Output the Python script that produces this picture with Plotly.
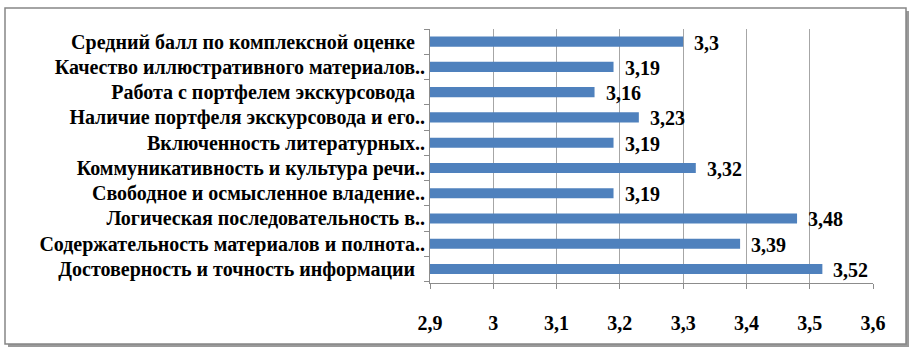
import plotly.graph_objects as go

# Data (bottom to top as plotted)
categories = [
    "Достоверность и точность информации\u00a0\u00a0",
    "Содержательность материалов и полнота..",
    "Логическая последовательность в..",
    "Свободное и осмысленное владение..",
    "Коммуникативность и культура речи..",
    "Включенность литературных..",
    "Наличие портфеля экскурсовода и его..",
    "Работа с портфелем экскурсовода\u00a0\u00a0",
    "Качество иллюстративного материалов..",
    "Средний балл по комплексной оценке\u00a0\u00a0",
]
values = [3.52, 3.39, 3.48, 3.19, 3.32, 3.19, 3.23, 3.16, 3.19, 3.3]
x_ticks = [2.9, 3.0, 3.1, 3.2, 3.3, 3.4, 3.5, 3.6]
x_tick_labels = ["2,9", "3", "3,1", "3,2", "3,3", "3,4", "3,5", "3,6"]

FONT = "Liberation Serif, Times New Roman, DejaVu Serif, serif"
W, H = 912, 352
ML, MR, MT, MB = 430, 39, 29, 69
PW, PH = W - ML - MR, H - MT - MB

def px2x(px):
    return (px - ML) / PW

def py2y(py):
    return (H - MB - py) / PH

fig = go.Figure(go.Bar(
    x=values, y=categories, orientation="h",
    marker=dict(color="#4F81BD", line=dict(width=0)),
    width=0.4,
))

annotations = []
for c, v in zip(categories, values):
    annotations.append(dict(
        x=v, y=c, xref="x", yref="y", text="<b>%s</b>" % (("%g" % v).replace(".", ",")),
        showarrow=False, xanchor="left", yanchor="middle", xshift=9, yshift=-1,
        font=dict(family=FONT, size=20, color="#000000"),
    ))

shapes = [
    # shadow
    dict(type="rect", xref="paper", yref="paper", layer="below",
         x0=px2x(8), x1=px2x(909), y0=py2y(347), y1=py2y(11),
         fillcolor="#9a9a9a", line=dict(width=0)),
    # chart border
    dict(type="rect", xref="paper", yref="paper", layer="below",
         x0=px2x(5), x1=px2x(906), y0=py2y(344), y1=py2y(8),
         fillcolor="#ffffff", line=dict(color="#878787", width=1.5)),
]

fig.update_layout(
    width=W, height=H,
    margin=dict(l=ML, r=MR, t=MT, b=MB, pad=0),
    paper_bgcolor="#ffffff",
    plot_bgcolor="rgba(0,0,0,0)",
    showlegend=False,
    font=dict(family=FONT, size=20, color="#000000"),
    annotations=annotations,
    shapes=shapes,
    xaxis=dict(
        range=[2.9, 3.6], tickvals=x_ticks, ticktext=["<b>%s</b>" % t for t in x_tick_labels],
        showgrid=True, gridcolor="#a6a6a6", gridwidth=1,
        showline=True, linecolor="#8c8c8c", linewidth=1,
        ticks="outside", ticklen=5, tickcolor="#8c8c8c",
        ticklabelstandoff=17,
        tickfont=dict(family=FONT, size=20, color="#000000"),
        zeroline=False, fixedrange=True,
    ),
    yaxis=dict(
        type="category", categoryorder="array", categoryarray=categories,
        ticktext=["<b>%s</b>" % c for c in categories], tickvals=categories,
        showline=True, linecolor="#8c8c8c", linewidth=1,
        ticks="outside", ticklen=5, tickcolor="#8c8c8c", tickson="boundaries",
        showgrid=False,
        tickfont=dict(family=FONT, size=20, color="#000000"),
        fixedrange=True,
    ),
)

fig.write_html("out.html", config={"displayModeBar": False})

# remove default page margin so the figure sits at the window origin
with open("out.html", "r", encoding="utf-8") as f:
    html = f.read()
html = html.replace("<head>", "<head><style>html,body{margin:0;padding:0;overflow:hidden;}</style>", 1)
with open("out.html", "w", encoding="utf-8") as f:
    f.write(html)
